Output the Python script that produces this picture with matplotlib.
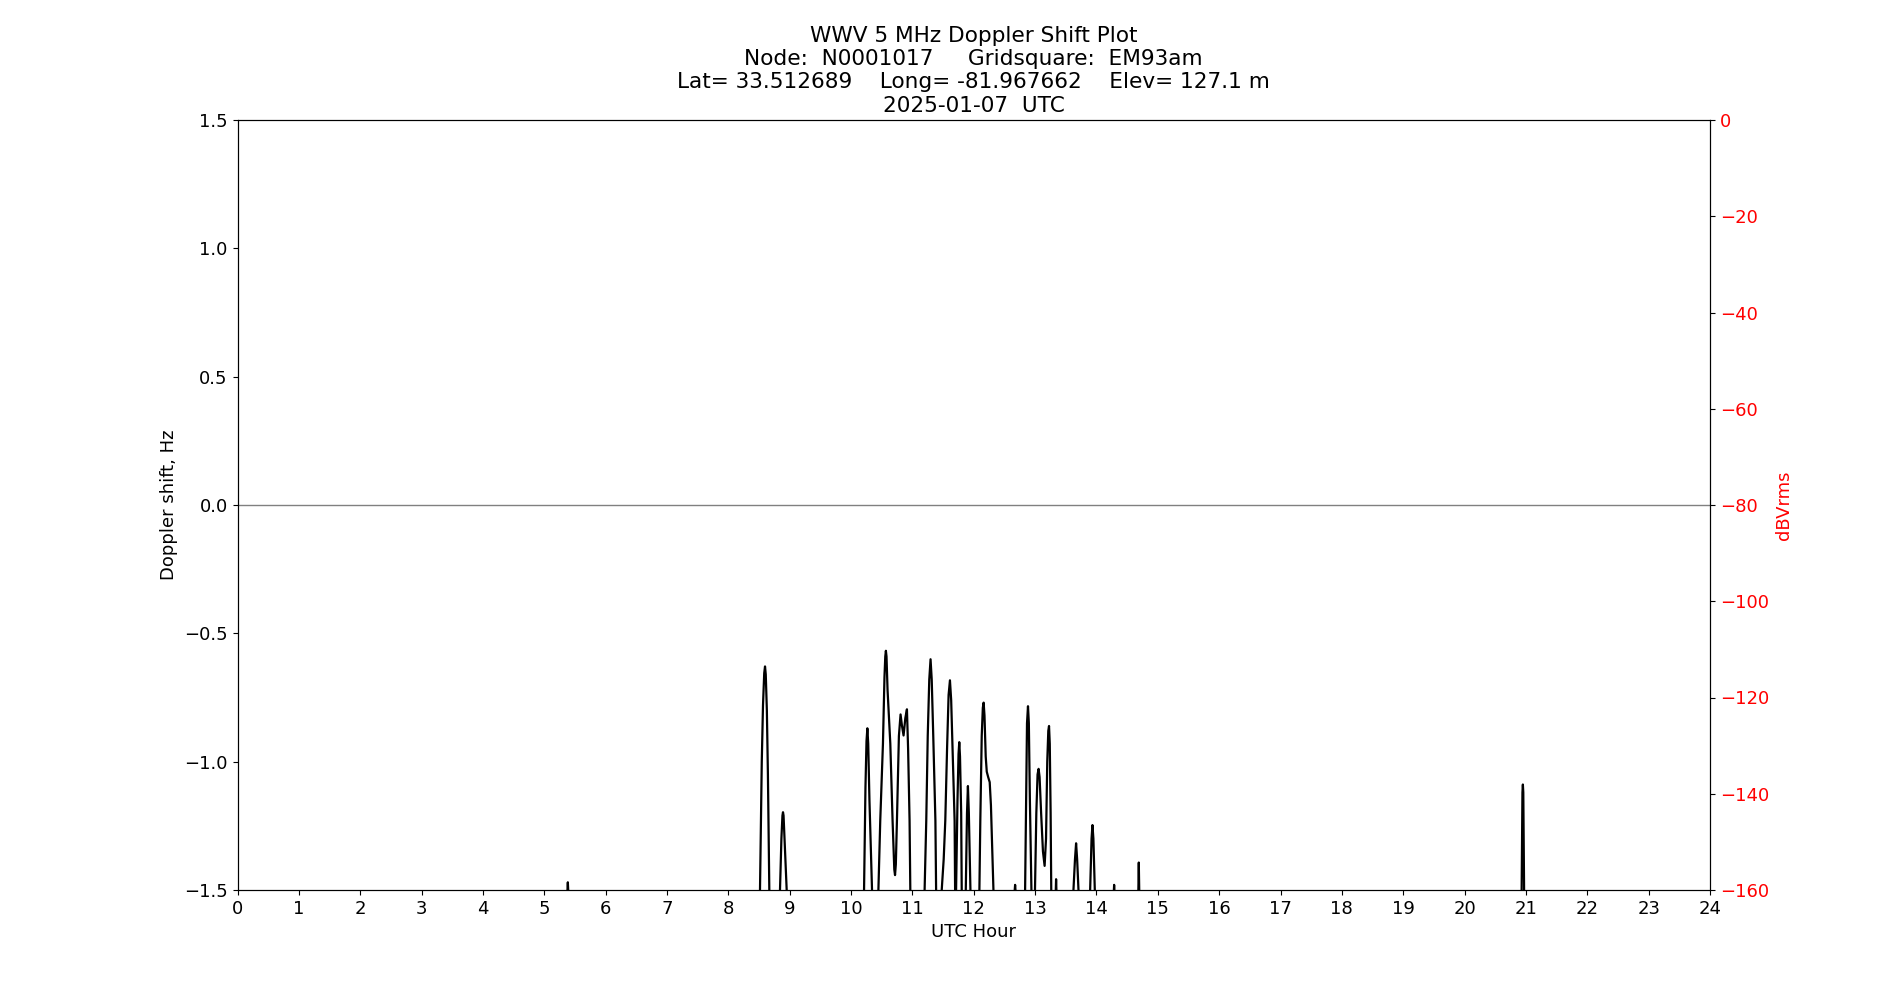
import numpy as np
import matplotlib
matplotlib.use("Agg")
import matplotlib.pyplot as plt

# Doppler shift trace (UTC hour, Hz); -1.7 = below the axis
hours = [
    0.0, 5.37, 5.378, 5.384, 5.39, 5.40,
    8.50, 8.516, 8.545, 8.565, 8.585, 8.598, 8.61, 8.628, 8.645, 8.668, 8.675,
    8.835, 8.842, 8.865, 8.882, 8.891, 8.90, 8.918, 8.951, 8.96,
    10.205, 10.212, 10.235, 10.252, 10.266, 10.28, 10.30, 10.342, 10.35,
    10.44, 10.446, 10.476, 10.52, 10.545, 10.558, 10.568, 10.578, 10.595, 10.64, 10.677,
    10.705, 10.717, 10.73, 10.748, 10.78, 10.807, 10.83, 10.856, 10.885, 10.911, 10.93,
    10.954, 10.967, 10.975,
    11.19, 11.199, 11.226, 11.25, 11.275, 11.296, 11.315, 11.34, 11.375, 11.386, 11.395,
    11.47, 11.478, 11.51, 11.536, 11.565, 11.59, 11.612, 11.632, 11.66, 11.688, 11.696, 11.70,
    11.705, 11.712, 11.735, 11.752, 11.764, 11.776, 11.795, 11.804, 11.81,
    11.86, 11.870, 11.89, 11.905, 11.92, 11.946, 11.955,
    12.085, 12.092, 12.107, 12.13, 12.148, 12.161, 12.175, 12.195, 12.212, 12.235, 12.26,
    12.28, 12.305, 12.321, 12.33,
    12.665, 12.668, 12.674, 12.68, 12.685,
    12.83, 12.837, 12.855, 12.868, 12.884, 12.898, 12.915, 12.94, 12.945,
    12.993, 12.998, 13.02, 13.04, 13.057, 13.073, 13.098, 13.128, 13.155, 13.178, 13.198,
    13.215, 13.227, 13.239, 13.253, 13.264, 13.27,
    13.335, 13.337, 13.342, 13.347, 13.35,
    13.62, 13.625, 13.65, 13.668, 13.685, 13.707, 13.71,
    13.89, 13.897, 13.92, 13.935, 13.95, 13.973, 13.98,
    14.282, 14.284, 14.288, 14.292, 14.295,
    14.68, 14.683, 14.69, 14.697, 14.70,
    20.92, 20.93, 20.943, 20.95, 20.957, 20.97, 20.98,
    24.0,
]
doppler = [
    -1.7, -1.7, -1.5, -1.47, -1.5, -1.7,
    -1.7, -1.5, -1.0, -0.78, -0.655, -0.629, -0.66, -0.8, -1.05, -1.5, -1.7,
    -1.7, -1.5, -1.3, -1.21, -1.197, -1.21, -1.31, -1.5, -1.7,
    -1.7, -1.5, -1.1, -0.92, -0.870, -0.93, -1.15, -1.5, -1.7,
    -1.7, -1.5, -1.23, -0.93, -0.67, -0.59, -0.568, -0.59, -0.72, -0.93, -1.23,
    -1.42, -1.442, -1.40, -1.23, -0.90, -0.816, -0.86, -0.898, -0.83, -0.796, -0.95,
    -1.23, -1.5, -1.7,
    -1.7, -1.5, -1.23, -0.9, -0.68, -0.601, -0.68, -0.9, -1.23, -1.5, -1.7,
    -1.7, -1.5, -1.38, -1.23, -0.95, -0.74, -0.683, -0.76, -1.0, -1.23, -1.5, -1.7,
    -1.7, -1.5, -1.15, -0.97, -0.924, -0.98, -1.2, -1.5, -1.7,
    -1.7, -1.5, -1.2, -1.095, -1.2, -1.5, -1.7,
    -1.7, -1.5, -1.23, -0.9, -0.79, -0.770, -0.82, -0.98, -1.039, -1.06, -1.08,
    -1.17, -1.38, -1.5, -1.7,
    -1.7, -1.5, -1.48, -1.5, -1.7,
    -1.7, -1.5, -1.1, -0.85, -0.784, -0.85, -1.15, -1.5, -1.7,
    -1.7, -1.5, -1.2, -1.05, -1.028, -1.06, -1.2, -1.35, -1.406, -1.3, -1.0,
    -0.88, -0.861, -0.93, -1.2, -1.5, -1.7,
    -1.7, -1.5, -1.458, -1.5, -1.7,
    -1.7, -1.5, -1.38, -1.318, -1.38, -1.5, -1.7,
    -1.7, -1.5, -1.3, -1.247, -1.3, -1.5, -1.7,
    -1.7, -1.5, -1.48, -1.5, -1.7,
    -1.7, -1.5, -1.393, -1.5, -1.7,
    -1.7, -1.5, -1.12, -1.089, -1.12, -1.5, -1.7,
    -1.7,
]

title = ("WWV 5 MHz Doppler Shift Plot\n"
         "Node:  N0001017     Gridsquare:  EM93am\n"
         "Lat= 33.512689    Long= -81.967662    Elev= 127.1 m\n"
         "2025-01-07  UTC")

hour_ticks = list(range(0, 25))
doppler_ticks = [-1.5, -1.0, -0.5, 0.0, 0.5, 1.0, 1.5]
db_ticks = [0, -20, -40, -60, -80, -100, -120, -140, -160]

plt.rcParams["font.size"] = 13

fig = plt.figure(figsize=(19, 10), dpi=100)
ax = fig.add_subplot(111)

ax.plot(hours, doppler, color="black", linewidth=1.6)
ax.axhline(0, color="grey", linewidth=1)

ax.set_xlim(0, 24)
ax.set_ylim(-1.5, 1.5)
ax.set_xticks(hour_ticks)
ax.set_yticks(doppler_ticks)
ax.set_xlabel("UTC Hour")
ax.set_ylabel("Doppler shift, Hz")
ax.set_title(title, fontsize=15.6)

# amplitude axis (no trace visible)
ax2 = ax.twinx()
ax2.set_ylim(-160, 0)
ax2.set_yticks(db_ticks)
ax2.tick_params(axis="y", labelcolor="red")
ax2.set_ylabel("dBVrms", color="red")

fig.savefig("out.png")
